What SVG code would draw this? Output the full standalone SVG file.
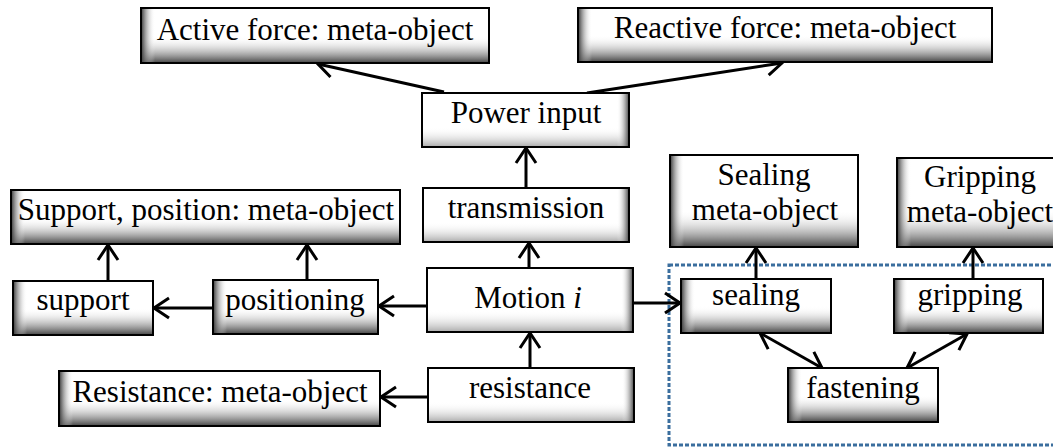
<svg xmlns="http://www.w3.org/2000/svg" width="1053" height="447" viewBox="0 0 1053 447">
<style>
text{font-family:'Liberation Serif','Times New Roman',serif;font-size:31px;text-anchor:middle;fill:#000}
.bg{fill:#fff}
.ol{fill:none;stroke:#000;stroke-width:2}
.sl{fill:url(#gL)}
.sb{fill:url(#gB)}
.sr{fill:url(#gR)}
.sb2{fill:url(#gB2)}
.edge{stroke:#000;stroke-width:3;fill:none;marker-end:url(#arr)}
.both{marker-start:url(#arr)}
.group{fill:none;stroke:#3b6e9e;stroke-width:3;stroke-dasharray:4 2}
</style>
<defs>
<linearGradient id="gL" x1="0" y1="0" x2="1" y2="0"><stop offset="0" stop-color="#333"/><stop offset="1" stop-color="#fff" stop-opacity="0"/></linearGradient>
<linearGradient id="gB" x1="0" y1="0" x2="0" y2="1"><stop offset="0" stop-color="#fff" stop-opacity="0"/><stop offset="1" stop-color="#444"/></linearGradient>
<linearGradient id="gR" x1="0" y1="0" x2="1" y2="0"><stop offset="0" stop-color="#fff" stop-opacity="0"/><stop offset="1" stop-color="#444"/></linearGradient>
<linearGradient id="gB2" x1="0" y1="0" x2="0" y2="1"><stop offset="0" stop-color="#fff" stop-opacity="0"/><stop offset="1" stop-color="#aaa"/></linearGradient>
<marker id="arr" viewBox="0 0 20 24" refX="18" refY="12" markerWidth="20" markerHeight="24" markerUnits="userSpaceOnUse" orient="auto-start-reverse"><path d="M3,2 L18,12 L3,22" fill="none" stroke="#000" stroke-width="3"/></marker>
</defs>

<rect class="group" x="669" y="265" width="400" height="180"/>

<g id="connectors">
<path class="edge" d="M444,92 L318,64"/>
<path class="edge" d="M587,93 L782,63"/>
<path class="edge" d="M526,188 L526,148"/>
<path class="edge" d="M529,268 L529,243"/>
<path class="edge" d="M530,368 L530,333"/>
<path class="edge" d="M427,306 L379,306"/>
<path class="edge" d="M213,308 L154,308"/>
<path class="edge" d="M108,281 L108,245"/>
<path class="edge" d="M307,280 L307,245"/>
<path class="edge" d="M428,397 L381,397"/>
<path class="edge" d="M633,303 L680,303"/>
<path class="edge" d="M756,279 L756,248"/>
<path class="edge" d="M973,279 L973,248"/>
<path class="edge both" d="M760,333 L822,368"/>
<path class="edge both" d="M967,334 L907,368"/>
</g>

<g id="active-force">
<rect class="bg" x="141" y="8" width="348" height="55"/>
<rect class="sb" x="141" y="36" width="348" height="27"/>
<rect class="sl" x="141" y="8" width="14" height="55"/>
<rect class="ol" x="141" y="8" width="348" height="55"/>
<text x="315" y="40">Active force: meta-object</text>
</g>

<g id="reactive-force">
<rect class="bg" x="578" y="8" width="414" height="54"/>
<rect class="sb" x="578" y="35" width="414" height="27"/>
<rect class="sl" x="578" y="8" width="14" height="54"/>
<rect class="ol" x="578" y="8" width="414" height="54"/>
<text x="785" y="38">Reactive force: meta-object</text>
</g>

<g id="power-input">
<rect class="bg" x="422" y="93" width="207" height="54"/>
<rect class="sb2" x="422" y="127" width="207" height="20"/>
<rect class="sr" x="617" y="93" width="12" height="54"/>
<rect class="ol" x="422" y="93" width="207" height="54"/>
<text x="526" y="123">Power input</text>
</g>

<g id="transmission">
<rect class="bg" x="423" y="188" width="206" height="54"/>
<rect class="sb2" x="423" y="222" width="206" height="20"/>
<rect class="sr" x="617" y="188" width="12" height="54"/>
<rect class="ol" x="423" y="188" width="206" height="54"/>
<text x="526" y="218">transmission</text>
</g>

<g id="motion">
<rect class="bg" x="427" y="268" width="206" height="64"/>
<rect class="sb2" x="427" y="310" width="206" height="22"/>
<rect class="sr" x="621" y="268" width="12" height="64"/>
<rect class="ol" x="427" y="268" width="206" height="64"/>
<text x="528" y="308">Motion <tspan font-style="italic">i</tspan></text>
</g>

<g id="resistance">
<rect class="bg" x="428" y="368" width="206" height="54"/>
<rect class="sb2" x="428" y="402" width="206" height="20"/>
<rect class="sr" x="622" y="368" width="12" height="54"/>
<rect class="ol" x="428" y="368" width="206" height="54"/>
<text x="530" y="398">resistance</text>
</g>

<g id="support-position">
<rect class="bg" x="11" y="190" width="389" height="54"/>
<rect class="sb" x="11" y="217" width="389" height="27"/>
<rect class="sl" x="11" y="190" width="14" height="54"/>
<rect class="ol" x="11" y="190" width="389" height="54"/>
<text x="206" y="220">Support, position: meta-object</text>
</g>

<g id="support">
<rect class="bg" x="13" y="281" width="140" height="54"/>
<rect class="sb" x="13" y="308" width="140" height="27"/>
<rect class="sl" x="13" y="281" width="14" height="54"/>
<rect class="ol" x="13" y="281" width="140" height="54"/>
<text x="83" y="310">support</text>
</g>

<g id="positioning">
<rect class="bg" x="213" y="280" width="165" height="54"/>
<rect class="sb" x="213" y="307" width="165" height="27"/>
<rect class="sl" x="213" y="280" width="14" height="54"/>
<rect class="ol" x="213" y="280" width="165" height="54"/>
<text x="295" y="310">positioning</text>
</g>

<g id="resistance-meta">
<rect class="bg" x="59" y="371" width="321" height="55"/>
<rect class="sb" x="59" y="399" width="321" height="27"/>
<rect class="sl" x="59" y="371" width="14" height="55"/>
<rect class="ol" x="59" y="371" width="321" height="55"/>
<text x="220" y="402">Resistance: meta-object</text>
</g>

<g id="sealing-meta">
<rect class="bg" x="670" y="155" width="188" height="92"/>
<rect class="sb" x="670" y="210" width="188" height="37"/>
<rect class="sl" x="670" y="155" width="14" height="92"/>
<rect class="ol" x="670" y="155" width="188" height="92"/>
<text x="764" y="185">Sealing</text>
<text x="765" y="220">meta-object</text>
</g>

<g id="gripping-meta">
<rect class="bg" x="897" y="158" width="170" height="89"/>
<rect class="sb" x="897" y="210" width="170" height="37"/>
<rect class="sl" x="897" y="158" width="14" height="89"/>
<rect class="ol" x="897" y="158" width="170" height="89"/>
<text x="980" y="187">Gripping</text>
<text x="980" y="222">meta-object</text>
</g>

<g id="sealing">
<rect class="bg" x="681" y="279" width="150" height="54"/>
<rect class="sb" x="681" y="306" width="150" height="27"/>
<rect class="sl" x="681" y="279" width="14" height="54"/>
<rect class="ol" x="681" y="279" width="150" height="54"/>
<text x="756" y="305">sealing</text>
</g>

<g id="gripping">
<rect class="bg" x="894" y="279" width="149" height="54"/>
<rect class="sb" x="894" y="306" width="149" height="27"/>
<rect class="sl" x="894" y="279" width="14" height="54"/>
<rect class="ol" x="894" y="279" width="149" height="54"/>
<text x="970" y="305">gripping</text>
</g>

<g id="fastening">
<rect class="bg" x="788" y="368" width="150" height="54"/>
<rect class="sb" x="788" y="395" width="150" height="27"/>
<rect class="sl" x="788" y="368" width="14" height="54"/>
<rect class="ol" x="788" y="368" width="150" height="54"/>
<text x="863" y="398">fastening</text>
</g>
</svg>
